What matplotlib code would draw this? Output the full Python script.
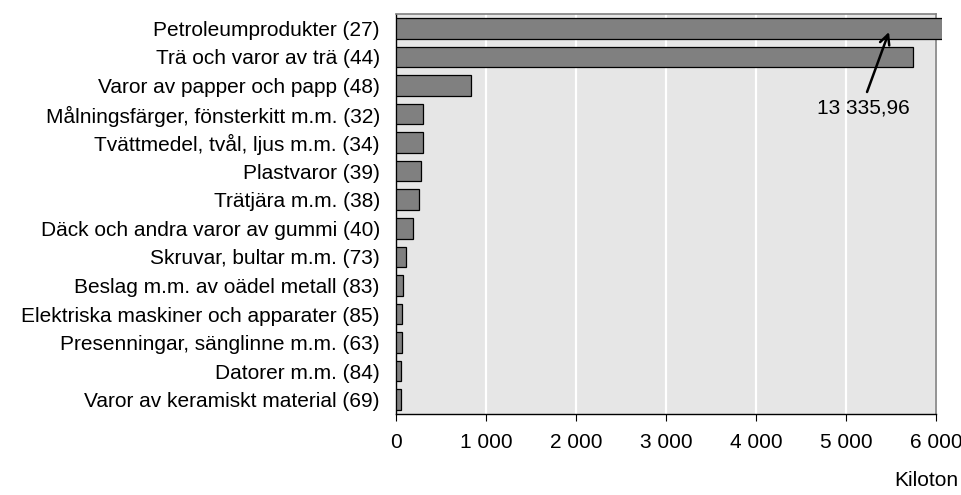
import matplotlib
matplotlib.use("Agg")
import matplotlib.pyplot as plt
from matplotlib.transforms import Bbox, TransformedBbox

plt.rcParams['font.family'] = ['Liberation Sans', 'DejaVu Sans']

categories = [
    "Petroleumprodukter (27)",
    "Trä och varor av trä (44)",
    "Varor av papper och papp (48)",
    "Målningsfärger, fönsterkitt m.m. (32)",
    "Tvättmedel, tvål, ljus m.m. (34)",
    "Plastvaror (39)",
    "Trätjära m.m. (38)",
    "Däck och andra varor av gummi (40)",
    "Skruvar, bultar m.m. (73)",
    "Beslag m.m. av oädel metall (83)",
    "Elektriska maskiner och apparater (85)",
    "Presenningar, sänglinne m.m. (63)",
    "Datorer m.m. (84)",
    "Varor av keramiskt material (69)",
]
values = [13335.96, 5740, 830, 300, 298, 272, 249, 178, 111, 71, 60, 58, 45, 45]
xticks = [0, 1000, 2000, 3000, 4000, 5000, 6000]
xticklabels = ["0", "1 000", "2 000", "3 000", "4 000", "5 000", "6 000"]
annotation_text = "13 335,96"
unit_label = "Kiloton"

FS = 15

fig = plt.figure(figsize=(9.62, 4.95), dpi=100)
ax = fig.add_axes([396.5/962, 1-414/495, (936-396.5)/962, 400/495])
ax.set_facecolor("#e6e6e6")

ypos = list(range(len(categories)))
bars = ax.barh(ypos, values, height=0.72, color="#808080", edgecolor="black",
               linewidth=0.9, zorder=3)
ax.set_ylim(len(categories) - 0.5, -0.5)
ax.set_xlim(0, 6000)

# let bars overflow the plot area slightly, as in the reference
clip = TransformedBbox(Bbox([[0, 0], [1.011, 1]]), ax.transAxes)
for b in bars:
    b.set_clip_box(clip)

ax.set_yticks(ypos)
ax.set_yticklabels(categories, fontsize=FS)
ax.tick_params(axis='y', length=0, pad=12)
ax.set_xticks(xticks)
ax.set_xticklabels(xticklabels, fontsize=FS)
ax.tick_params(axis='x', direction='out', length=5, pad=9, width=0.8)

ax.grid(axis='x', color='white', linewidth=1.6, zorder=1)
ax.set_axisbelow(True)

ax.spines['left'].set_color('black')
ax.spines['bottom'].set_color('black')
ax.spines['left'].set_linewidth(1.0)
ax.spines['bottom'].set_linewidth(1.0)
ax.spines['top'].set_color('#808080')
ax.spines['right'].set_color('#808080')
ax.spines['top'].set_linewidth(1.2)
ax.spines['right'].set_linewidth(1.2)

# annotation arrow pointing at the truncated bar
ax.annotate('', xy=(5477, 0.13), xytext=(5233, 2.23),
            arrowprops=dict(arrowstyle='->,head_length=0.7,head_width=0.35',
                            color='black', lw=1.8, shrinkA=0, shrinkB=0),
            zorder=5, annotation_clip=False)
ax.text(5188, 2.78, annotation_text, fontsize=FS, ha='center', va='center',
        zorder=5)

fig.text(958/962, 1-480/495, unit_label, fontsize=FS, ha='right', va='center')

fig.savefig("out.png", dpi=100)
